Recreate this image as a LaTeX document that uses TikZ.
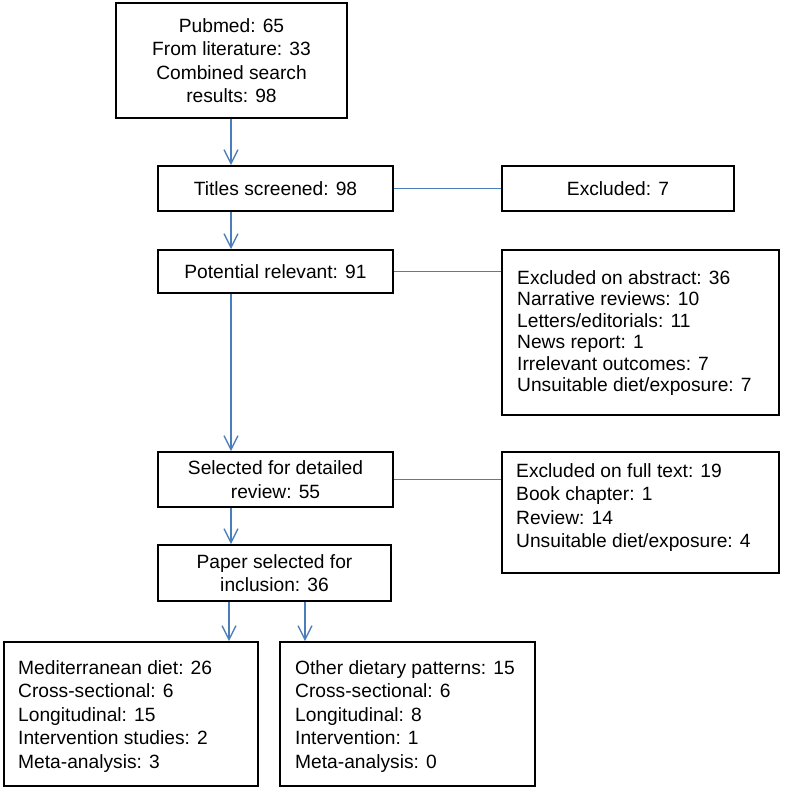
\documentclass[tikz,border=0pt]{standalone}
\usepackage{fontspec}
\setmainfont{Liberation Sans}
\usetikzlibrary{arrows.meta}
\definecolor{arrowblue}{HTML}{4A7EBB}
\begin{document}
\begin{tikzpicture}[x=1pt,y=-1pt,
  box/.style={draw=black, line width=1.8pt, rectangle, inner sep=0pt, align=center,
    font=\fontsize{19.2}{23.3}\selectfont},
  txt/.style={inner sep=0pt, align=left, anchor=north west,
    font=\fontsize{19.2}{23.5}\selectfont},
  flow/.style={draw=arrowblue, line width=1.3pt,
    -{Straight Barb[length=14pt,width=14pt,line width=1.3pt]}},
  link/.style={draw=arrowblue, line width=1.3pt}]
\useasboundingbox (0,0) rectangle (784,789);

\coordinate (axis) at (231,0);
\coordinate (la) at (229,0);
\coordinate (ra) at (305,0);

\node[box, minimum width=231pt, minimum height=115pt] (b1) at (231.5,60.5)
  {Pubmed: 65\\From literature: 33\\Combined search\\results: 98};
\node[box, minimum width=235pt, minimum height=45pt] (b2) at (275.5,188.5) {Titles screened: 98};
\node[box, minimum width=232pt, minimum height=45pt] (ex) at (618,188.5) {Excluded: 7};
\node[box, minimum width=235pt, minimum height=43pt] (b3) at (275.5,271.5) {Potential relevant: 91};
\node[box, minimum width=277pt, minimum height=165pt] (r2) at (640.5,332.5) {};
\node[box, minimum width=235pt, minimum height=55pt] (b4) at (275.5,479.5)
  {Selected for detailed\\review: 55};
\node[box, minimum width=277pt, minimum height=121pt] (r3) at (640.5,512.5) {};
\node[box, minimum width=233pt, minimum height=56pt] (b5) at (274.5,573)
  {Paper selected for\\inclusion: 36};
\node[box, minimum width=254pt, minimum height=144pt] (bl) at (131,714) {};
\node[box, minimum width=255pt, minimum height=144pt] (br) at (407.5,714) {};

\node[txt, font=\fontsize{19.2}{21.5}\selectfont] (r2t) at (517,270)
  {Excluded on abstract: 36\\Narrative reviews: 10\\Letters/editorials: 11\\News report: 1\\Irrelevant outcomes: 7\\Unsuitable diet/exposure: 7};
\node[txt] (r3t) at (516,463)
  {Excluded on full text: 19\\Book chapter: 1\\Review: 14\\Unsuitable diet/exposure: 4};
\node[txt] (blt) at (18,660)
  {Mediterranean diet: 26\\Cross-sectional: 6\\Longitudinal: 15\\Intervention studies: 2\\Meta-analysis: 3};
\node[txt] (brt) at (295,660)
  {Other dietary patterns: 15\\Cross-sectional: 6\\Longitudinal: 8\\Intervention: 1\\Meta-analysis: 0};

\draw[flow] (b1.south -| axis) -- (b2.north -| axis);
\draw[flow] (b2.south -| axis) -- (b3.north -| axis);
\draw[flow] (b3.south -| axis) -- (b4.north -| axis);
\draw[flow] (b4.south -| axis) -- (b5.north -| axis);
\draw[flow] (b5.south -| la) -- (bl.north -| la);
\draw[flow] (b5.south -| ra) -- (br.north -| ra);

\draw[link] (b2.east) -- (ex.west);
\draw[link] (b3.east) -- (b3.east -| r2.west);
\draw[link] (b4.east) -- (b4.east -| r3.west);
\end{tikzpicture}
\end{document}
